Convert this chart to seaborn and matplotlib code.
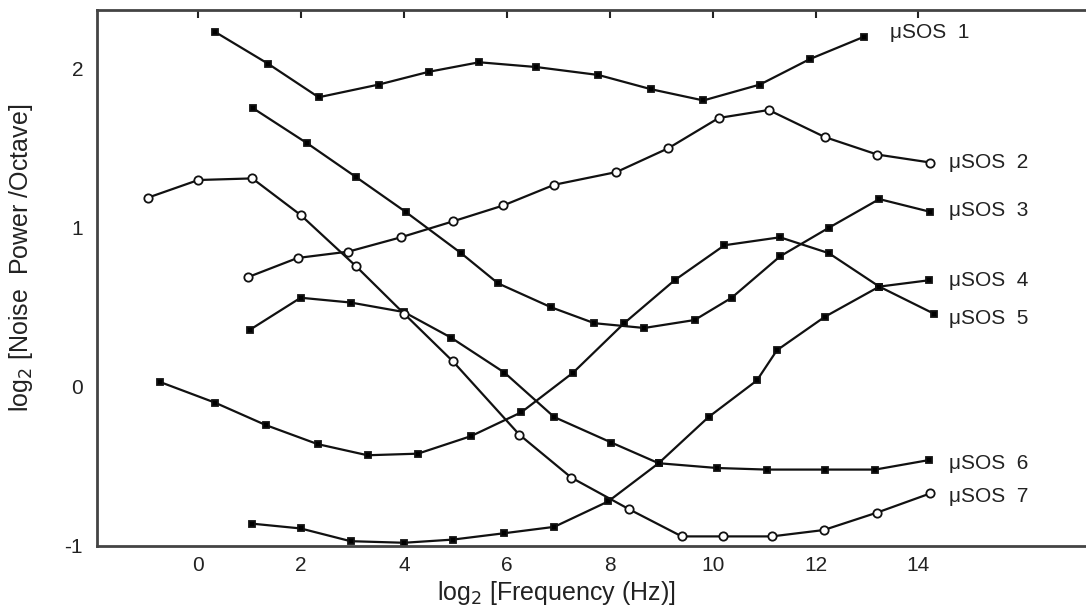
import matplotlib
matplotlib.use('Agg')
import matplotlib.pyplot as plt
import seaborn as sns

# Noise power per octave for the seven µSOS devices

sos1_x = [0.33, 1.36, 2.34, 3.51, 4.48, 5.46, 6.57, 7.78, 8.81, 9.82, 10.92, 11.89, 12.94]
sos1_y = [2.23, 2.03, 1.82, 1.90, 1.98, 2.04, 2.01, 1.96, 1.87, 1.80, 1.90, 2.06, 2.20]

sos2_x = [0.97, 1.93, 2.92, 3.94, 4.95, 5.93, 6.92, 8.13, 9.14, 10.12, 11.09, 12.18, 13.20, 14.23]
sos2_y = [0.69, 0.81, 0.85, 0.94, 1.04, 1.14, 1.27, 1.35, 1.50, 1.69, 1.74, 1.57, 1.46, 1.41]

sos3_x = [1.07, 2.12, 3.06, 4.03, 5.11, 5.83, 6.86, 7.70, 8.67, 9.65, 10.37, 11.31, 12.26, 13.24, 14.23]
sos3_y = [1.75, 1.53, 1.32, 1.10, 0.84, 0.65, 0.50, 0.40, 0.37, 0.42, 0.56, 0.82, 1.00, 1.18, 1.10]

sos4_x = [1.05, 1.99, 2.96, 4.00, 4.95, 5.95, 6.92, 7.97, 8.95, 9.92, 10.86, 11.25, 12.18, 13.24, 14.21]
sos4_y = [-0.86, -0.89, -0.97, -0.98, -0.96, -0.92, -0.88, -0.72, -0.48, -0.19, 0.04, 0.23, 0.44, 0.63, 0.67]

sos5_x = [-0.74, 0.33, 1.31, 2.32, 3.29, 4.27, 5.30, 6.28, 7.29, 8.28, 9.26, 10.23, 11.31, 12.26, 13.24, 14.30]
sos5_y = [0.03, -0.10, -0.24, -0.36, -0.43, -0.42, -0.31, -0.16, 0.09, 0.40, 0.67, 0.89, 0.94, 0.84, 0.63, 0.46]

sos6_x = [1.01, 1.99, 2.96, 4.00, 4.91, 5.95, 6.92, 8.03, 8.95, 10.08, 11.05, 12.18, 13.16, 14.21]
sos6_y = [0.36, 0.56, 0.53, 0.47, 0.31, 0.09, -0.19, -0.35, -0.48, -0.51, -0.52, -0.52, -0.52, -0.46]

sos7_x = [-0.97, 0.00, 1.05, 1.99, 3.06, 4.00, 4.95, 6.24, 7.25, 8.38, 9.40, 10.21, 11.15, 12.16, 13.20, 14.23]
sos7_y = [1.19, 1.30, 1.31, 1.08, 0.76, 0.46, 0.16, -0.30, -0.57, -0.77, -0.94, -0.94, -0.94, -0.90, -0.79, -0.67]

labels = ['\u03bcSOS  1', '\u03bcSOS  2', '\u03bcSOS  3', '\u03bcSOS  4',
          '\u03bcSOS  5', '\u03bcSOS  6', '\u03bcSOS  7']
label_x = [13.45, 14.6, 14.6, 14.6, 14.6, 14.6, 14.6]
label_y = [2.23, 1.41, 1.11, 0.67, 0.43, -0.48, -0.69]

x_ticks = [0, 2, 4, 6, 8, 10, 12, 14]
y_ticks = [-1, 0, 1, 2]

#%%

sns.set_style('white')
plt.rcParams['font.family'] = ['Liberation Sans', 'DejaVu Sans']
plt.rcParams['axes.unicode_minus'] = False

fig = plt.figure(figsize=(10.86, 6.10), dpi=100)
ax = fig.add_axes([0.0893, 0.105, 0.915, 0.879])

series = [
    (sos1_x, sos1_y, 's', 'k'),
    (sos2_x, sos2_y, 'o', 'w'),
    (sos3_x, sos3_y, 's', 'k'),
    (sos4_x, sos4_y, 's', 'k'),
    (sos5_x, sos5_y, 's', 'k'),
    (sos6_x, sos6_y, 's', 'k'),
    (sos7_x, sos7_y, 'o', 'w'),
]

for xs, ys, mk, fc in series:
    sns.lineplot(x=xs, y=ys, ax=ax, color='#111111', linewidth=1.6,
                 marker=mk, markersize=6 if mk == 'o' else 4.2,
                 markerfacecolor=fc, markeredgecolor='#111111',
                 markeredgewidth=1.3, estimator=None, sort=False)

for txt, lx, ly in zip(labels, label_x, label_y):
    ax.text(lx, ly, txt, fontsize=15, va='center', ha='left', color='#222222')

ax.set_xlim(-1.97, 17.35)
ax.set_ylim(-1.0, 2.37)
ax.set_xticks(x_ticks)
ax.set_yticks(y_ticks)

ax.tick_params(axis='both', direction='in', length=6, width=1.5,
               labelsize=15, colors='#222222')
ax.tick_params(axis='x', top=True, pad=7)
ax.tick_params(axis='y', pad=10)

for side in ['left', 'bottom', 'top']:
    ax.spines[side].set_color('#444444')
    ax.spines[side].set_linewidth(2)
ax.spines['right'].set_visible(False)

ax.set_xlabel('log$_2$ [Frequency (Hz)]', fontsize=18, color='#222222')
ax.set_ylabel('log$_2$ [Noise  Power /Octave]', fontsize=18, color='#222222')
ax.xaxis.set_label_coords(0.462, -0.062)
ax.yaxis.set_label_coords(-0.062, 0.537)

plt.savefig('out.png', dpi=100)
